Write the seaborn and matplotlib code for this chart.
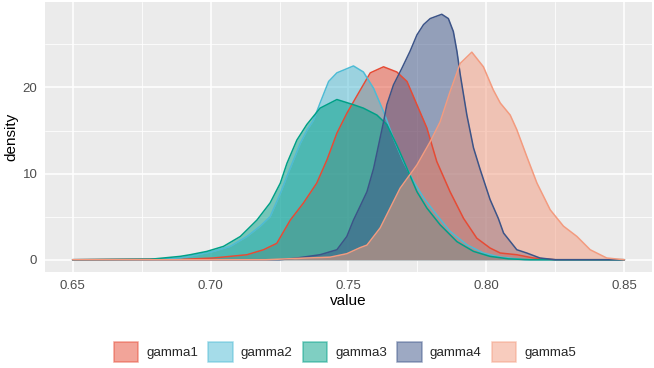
import numpy as np
import pandas as pd
import seaborn as sns
import matplotlib
matplotlib.use("Agg")
import matplotlib.pyplot as plt
from matplotlib.patches import Patch

# density curves, one pair of lists per group
gamma1_value = [0.650, 0.680, 0.690, 0.701, 0.7132, 0.7192, 0.724, 0.7289, 0.7337, 0.7385, 0.7422,
                0.7458, 0.7494, 0.753, 0.7579, 0.7627, 0.7675, 0.7712, 0.7748, 0.7784, 0.782,
                0.7868, 0.7917, 0.7965, 0.8013, 0.805, 0.811, 0.817, 0.825, 0.850]
gamma1_density = [0, 0.1, 0.05, 0.2, 0.58, 1.16, 1.9, 4.6, 6.6, 8.9, 11.6,
                  14.7, 17.0, 19.0, 21.7, 22.4, 21.8, 20.7, 18.0, 15.3, 11.4,
                  7.9, 4.8, 2.5, 1.36, 0.78, 0.58, 0.2, 0, 0]

gamma2_value = [0.650, 0.680, 0.689, 0.6951, 0.7011, 0.7071, 0.7132, 0.718, 0.7216, 0.7253, 0.7277,
                0.7301, 0.7325, 0.7349, 0.7373, 0.7397, 0.7428, 0.7458, 0.7518, 0.7554, 0.7591,
                0.7627, 0.7663, 0.7699, 0.7736, 0.7772, 0.782, 0.7868, 0.7929, 0.7989, 0.805,
                0.814, 0.850]
gamma2_density = [0, 0.05, 0.2, 0.58, 0.97, 1.55, 2.7, 3.9, 5.0, 7.7, 9.7,
                  11.6, 13.5, 15.0, 16.2, 18.2, 20.7, 21.7, 22.5, 21.8, 19.9,
                  17.2, 14.1, 11.4, 9.1, 7.2, 5.2, 3.3, 1.74, 0.78, 0.3,
                  0, 0]

gamma3_value = [0.650, 0.678, 0.689, 0.6926, 0.6987, 0.7047, 0.7108, 0.7168, 0.7216, 0.7253, 0.7277,
                0.7313, 0.7349, 0.7397, 0.7458, 0.7518, 0.7554, 0.7603, 0.7639, 0.7675, 0.7712,
                0.7748, 0.7784, 0.7832, 0.7893, 0.7953, 0.8013, 0.808, 0.816, 0.850]
gamma3_density = [0, 0.05, 0.39, 0.58, 0.97, 1.55, 2.7, 4.6, 6.6, 8.9, 11.2,
                  13.9, 15.7, 17.6, 18.6, 18.0, 17.6, 16.8, 15.7, 13.3, 10.6,
                  7.9, 6.0, 4.06, 2.1, 0.97, 0.39, 0.1, 0, 0]

gamma4_value = [0.650, 0.725, 0.7313, 0.7397, 0.7458, 0.7494, 0.7518, 0.7542, 0.7567, 0.7591, 0.7609,
                0.7627, 0.7639, 0.7663, 0.7693, 0.7723, 0.7748, 0.7772, 0.7796, 0.7838, 0.7862,
                0.788, 0.7893, 0.7905, 0.7929, 0.7953, 0.7977, 0.8013, 0.8043, 0.8062, 0.811,
                0.8146, 0.8194, 0.825, 0.850]
gamma4_density = [0, 0, 0.2, 0.58, 1.16, 2.7, 4.6, 6.2, 7.9, 10.6, 13.3,
                  16.0, 18.0, 20.3, 22.2, 24.2, 26.1, 27.3, 28.0, 28.5, 28.0,
                  26.5, 24.2, 21.5, 16.8, 13.0, 10.5, 7.0, 4.8, 3.1, 1.16,
                  0.78, 0.2, 0, 0]

gamma5_value = [0.650, 0.720, 0.7349, 0.7434, 0.7494, 0.7542, 0.7567, 0.7615, 0.7651, 0.7687, 0.7748,
                0.7796, 0.7832, 0.7868, 0.7905, 0.7947, 0.7989, 0.8025, 0.805, 0.8086, 0.811,
                0.8146, 0.8183, 0.8231, 0.8279, 0.8328, 0.8376, 0.8436, 0.850]
gamma5_density = [0, 0, 0.2, 0.3, 0.7, 1.4, 1.7, 3.7, 6.0, 8.3, 11.0,
                  13.7, 16.0, 19.5, 22.8, 24.1, 22.4, 19.7, 18.2, 16.8, 15.1,
                  12.0, 8.9, 5.8, 3.9, 2.7, 1.16, 0.2, 0]

groups = ["gamma1", "gamma2", "gamma3", "gamma4", "gamma5"]
colors = ["#E64B35", "#4DBBD5", "#00A087", "#3C5488", "#F39B7F"]

curves = {
    "gamma1": (gamma1_value, gamma1_density),
    "gamma2": (gamma2_value, gamma2_density),
    "gamma3": (gamma3_value, gamma3_density),
    "gamma4": (gamma4_value, gamma4_density),
    "gamma5": (gamma5_value, gamma5_density),
}

df = pd.concat(
    [pd.DataFrame({"value": v, "density": d, "group": g}) for g, (v, d) in curves.items()],
    ignore_index=True,
)

sns.set_theme(style="darkgrid", rc={
    "axes.facecolor": "#EBEBEB",
    "grid.color": "white",
})
plt.rcParams["font.family"] = ["Liberation Sans", "DejaVu Sans"]

fig = plt.figure(figsize=(6.54, 3.68), dpi=100)
ax = fig.add_axes([45 / 654, 96 / 368, 607 / 654, 270 / 368])

palette = dict(zip(groups, colors))
for g in groups:
    sub = df[df["group"] == g]
    ax.fill_between(sub["value"], 0, sub["density"], color=palette[g], alpha=0.5, lw=0)
    sns.lineplot(data=sub, x="value", y="density", color=palette[g], lw=1.1,
                 sort=False, estimator=None, ax=ax, legend=False)

ax.set_xlim(0.64, 0.86)
ax.set_ylim(-1.425, 29.925)
ax.set_xticks([0.65, 0.70, 0.75, 0.80, 0.85])
ax.set_xticklabels(["0.65", "0.70", "0.75", "0.80", "0.85"])
ax.set_yticks([0, 10, 20])
ax.set_xticks([0.675, 0.725, 0.775, 0.825], minor=True)
ax.set_yticks([5, 15, 25], minor=True)
ax.grid(which="major", color="white", lw=1.1)
ax.grid(which="minor", color="white", lw=0.55)
for s in ax.spines.values():
    s.set_visible(False)
ax.tick_params(which="major", length=3.5, width=0.8, color="#333333",
               labelsize=9.5, labelcolor="#4D4D4D", pad=2)
ax.tick_params(which="minor", length=0)
ax.set_xlabel("value", fontsize=11, color="black", labelpad=2)
ax.set_ylabel("density", fontsize=11, color="black", labelpad=3)

handles = [Patch(facecolor=c, edgecolor=c, alpha=0.5, lw=1.1, label=g) for g, c in zip(groups, colors)]
leg = fig.legend(handles=handles, loc="center", ncol=5, frameon=False, fontsize=9.6,
                 handlelength=1.85, handleheight=1.85, columnspacing=0.75, handletextpad=0.6)
leg.set_bbox_to_anchor((345 / 654, 1 - 352 / 368))

fig.savefig("out.png", dpi=100)
